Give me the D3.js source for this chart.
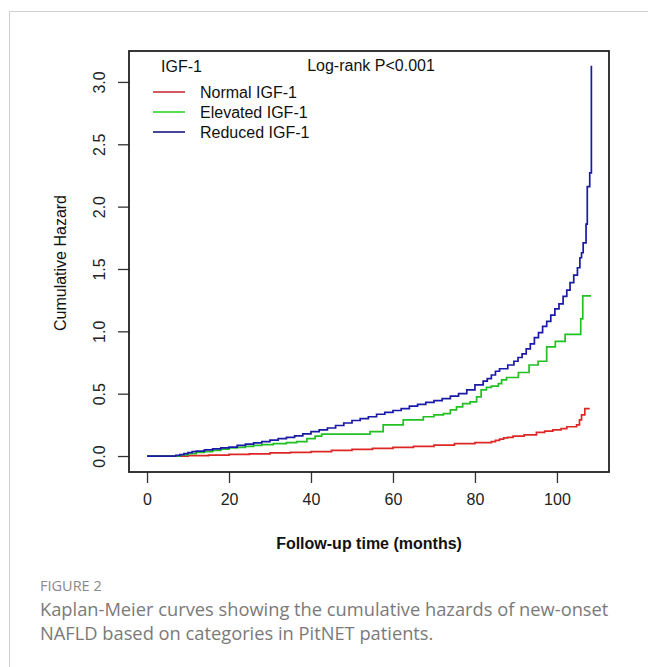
<!DOCTYPE html>
<html>
<head>
<meta charset="utf-8">
<script src="https://cdn.jsdelivr.net/npm/d3@7"></script>
<style>
  body { margin: 0; background: #fff; }
  svg { display: block; }
</style>
</head>
<body>
<div id="chart"></div>
<script>
// step points [month, cumulative hazard]
let normalTimes = [0, 8, 10, 15, 20, 25, 30, 35, 40, 45, 50, 55, 60, 65, 70, 75, 80, 84, 85, 86, 87, 88, 89.3, 92, 95, 97, 99, 101, 102.4, 104.8, 105.5, 106, 106.8, 108]
let normalHazard = [0, 0, 0.003, 0.008, 0.013, 0.018, 0.025, 0.03, 0.035, 0.045, 0.053, 0.062, 0.07, 0.078, 0.088, 0.1, 0.108, 0.115, 0.125, 0.135, 0.145, 0.15, 0.16, 0.17, 0.19, 0.2, 0.21, 0.22, 0.235, 0.25, 0.29, 0.33, 0.38, 0.38]

let elevatedTimes = [0, 6.5, 8, 10, 12, 14, 16, 18, 20, 22, 24, 26, 28, 30.8, 34, 36.5, 39, 41, 42.6, 54.4, 57.6, 62.5, 67.4, 70, 72.3, 74, 75.5, 77, 78.8, 80.4, 81.5, 82.8, 84, 85.7, 86.5, 87.7, 90.6, 93.2, 95.4, 97.5, 99.6, 102, 105.8, 106.3, 108.3]
let elevatedHazard = [0, 0, 0.01, 0.02, 0.03, 0.035, 0.045, 0.055, 0.065, 0.07, 0.078, 0.085, 0.092, 0.1, 0.108, 0.115, 0.14, 0.16, 0.176, 0.195, 0.25, 0.29, 0.315, 0.33, 0.34, 0.37, 0.395, 0.42, 0.435, 0.475, 0.53, 0.55, 0.56, 0.58, 0.61, 0.63, 0.67, 0.73, 0.76, 0.876, 0.92, 0.976, 1.1, 1.285, 1.285]

let reducedTimes = [0, 6, 7, 8, 9, 10, 11, 12, 14, 16, 18, 20, 22, 24, 26, 28, 30, 32, 34, 36, 38, 40, 42, 44, 46, 48, 50, 52, 54, 56, 58, 60, 62, 64, 66, 68, 70, 72, 74, 76, 78, 80, 82, 83, 84, 85, 86, 88, 89.5, 90.5, 91.5, 92.5, 93.5, 94.5, 95.5, 96.5, 97.5, 98.5, 99.5, 100.5, 101.5, 102.4, 103.2, 104.1, 105, 105.6, 106, 106.4, 107.1, 107.4, 108, 108.4]
let reducedHazard = [0, 0, 0.005, 0.012, 0.02, 0.028, 0.035, 0.04, 0.05, 0.058, 0.065, 0.072, 0.085, 0.095, 0.105, 0.115, 0.128, 0.14, 0.15, 0.162, 0.178, 0.195, 0.21, 0.225, 0.245, 0.265, 0.285, 0.3, 0.315, 0.335, 0.35, 0.365, 0.38, 0.4, 0.415, 0.43, 0.445, 0.46, 0.48, 0.5, 0.53, 0.57, 0.6, 0.62, 0.65, 0.68, 0.7, 0.73, 0.76, 0.79, 0.82, 0.86, 0.9, 0.95, 0.99, 1.04, 1.08, 1.13, 1.18, 1.22, 1.28, 1.33, 1.39, 1.45, 1.51, 1.59, 1.63, 1.71, 1.86, 2.16, 2.27, 3.13]

let groupNames = ["Normal IGF-1", "Elevated IGF-1", "Reduced IGF-1"]
let groupColors = ["#dd2626", "#22c022", "#1a1aa8"]
let legendColors = ["#c8303c", "#2ed42e", "#1a1a80"]
let xTicks = [0, 20, 40, 60, 80, 100]
let yTicks = [0, 0.5, 1, 1.5, 2, 2.5, 3]

let series = [
  normalTimes.map((t, i) => [t, normalHazard[i]]),
  elevatedTimes.map((t, i) => [t, elevatedHazard[i]]),
  reducedTimes.map((t, i) => [t, reducedHazard[i]])
]

let width = 648
let height = 667
let box = { left: 129, right: 609, top: 51, bottom: 472 }

let svg = d3.select("#chart")
  .append("svg")
  .attr("width", width)
  .attr("height", height)
  .style("font-family", "'Liberation Sans', Arial, sans-serif")

// page frame lines
svg.append("line")
  .attr("x1", 9).attr("x2", width).attr("y1", 11.5).attr("y2", 11.5)
  .attr("stroke", "#cfcfcf")
svg.append("line")
  .attr("x1", 9.5).attr("x2", 9.5).attr("y1", 11).attr("y2", height)
  .attr("stroke", "#cfcfcf")

let x = d3.scaleLinear()
  .domain([-4.4, 112.7])
  .range([box.left, box.right])

let y = d3.scaleLinear()
  .domain([-0.128, 3.248])
  .range([box.bottom, box.top])

let xAxis = g => g
  .attr("transform", `translate(0,${box.bottom})`)
  .call(d3.axisBottom(x).tickValues(xTicks).tickSize(11).tickPadding(11).tickSizeOuter(0))
  .call(g => g.select(".domain").remove())
  .call(g => g.selectAll("line").attr("stroke", "#333").attr("stroke-width", 1.3))
  .call(g => g.selectAll("text").style("font-size", "16px").attr("fill", "#222"))

let yAxis = g => g
  .attr("transform", `translate(${box.left},0)`)
  .call(d3.axisLeft(y).tickValues(yTicks).tickFormat(d3.format(".1f")).tickSize(11).tickSizeOuter(0))
  .call(g => g.select(".domain").remove())
  .call(g => g.selectAll("line").attr("stroke", "#333").attr("stroke-width", 1.3))
  .call(g => g.selectAll("text")
    .style("font-size", "16px").attr("fill", "#222")
    .attr("transform", "rotate(-90)")
    .attr("text-anchor", "middle")
    .attr("x", 0).attr("y", -30).attr("dy", "0.35em"))

svg.append("g").call(xAxis)
svg.append("g").call(yAxis)

let line = d3.line()
  .x(d => x(d[0]))
  .y(d => y(d[1]))
  .curve(d3.curveStepAfter)

svg.append("g")
  .selectAll("path")
  .data(series)
  .enter().append("path")
    .attr("d", line)
    .attr("fill", "none")
    .attr("stroke", (d, i) => groupColors[i])
    .attr("stroke-width", 1.7)

// plot box
svg.append("rect")
  .attr("x", box.left).attr("y", box.top)
  .attr("width", box.right - box.left).attr("height", box.bottom - box.top)
  .attr("fill", "none")
  .attr("stroke", "#222")
  .attr("stroke-width", 1.8)

// legend
svg.append("text")
  .attr("x", 161).attr("y", 72)
  .style("font-size", "16px").attr("fill", "#111")
  .text("IGF-1")

svg.append("text")
  .attr("x", 371).attr("y", 71)
  .attr("text-anchor", "middle")
  .style("font-size", "16px").attr("fill", "#111")
  .text("Log-rank P<0.001")

let legend = svg.append("g")
  .selectAll("g")
  .data(groupNames)
  .enter().append("g")
    .attr("transform", (d, i) => `translate(0,${92 + i * 20})`)

legend.append("line")
  .attr("x1", 153).attr("x2", 185)
  .attr("stroke", (d, i) => legendColors[i])
  .attr("stroke-width", 1.6)

legend.append("text")
  .attr("x", 200).attr("dy", "0.35em")
  .style("font-size", "16px").attr("fill", "#111")
  .text(d => d)

// axis titles
svg.append("text")
  .attr("transform", "translate(60,263) rotate(-90)")
  .attr("text-anchor", "middle")
  .attr("dy", "0.35em")
  .style("font-size", "16px").attr("fill", "#111")
  .text("Cumulative Hazard")

svg.append("text")
  .attr("x", (box.left + box.right) / 2).attr("y", 549)
  .attr("text-anchor", "middle")
  .style("font-size", "16px").style("font-weight", "bold").attr("fill", "#111")
  .text("Follow-up time (months)")

// caption
let caption = svg.append("g")
  .style("font-family", "'Open Sans', 'Noto Sans', sans-serif")

caption.append("text")
  .attr("x", 40).attr("y", 591)
  .style("font-size", "14.5px").attr("fill", "#8a8a8a")
  .text("FIGURE 2")

caption.selectAll("text.line")
  .data(["Kaplan-Meier curves showing the cumulative hazards of new-onset",
         "NAFLD based on categories in PitNET patients."])
  .enter().append("text")
    .attr("class", "line")
    .attr("x", 40).attr("y", (d, i) => 616 + i * 24)
    .style("font-size", "18.3px").attr("fill", "#7a7a7a")
    .text(d => d)
</script>
</body>
</html>
